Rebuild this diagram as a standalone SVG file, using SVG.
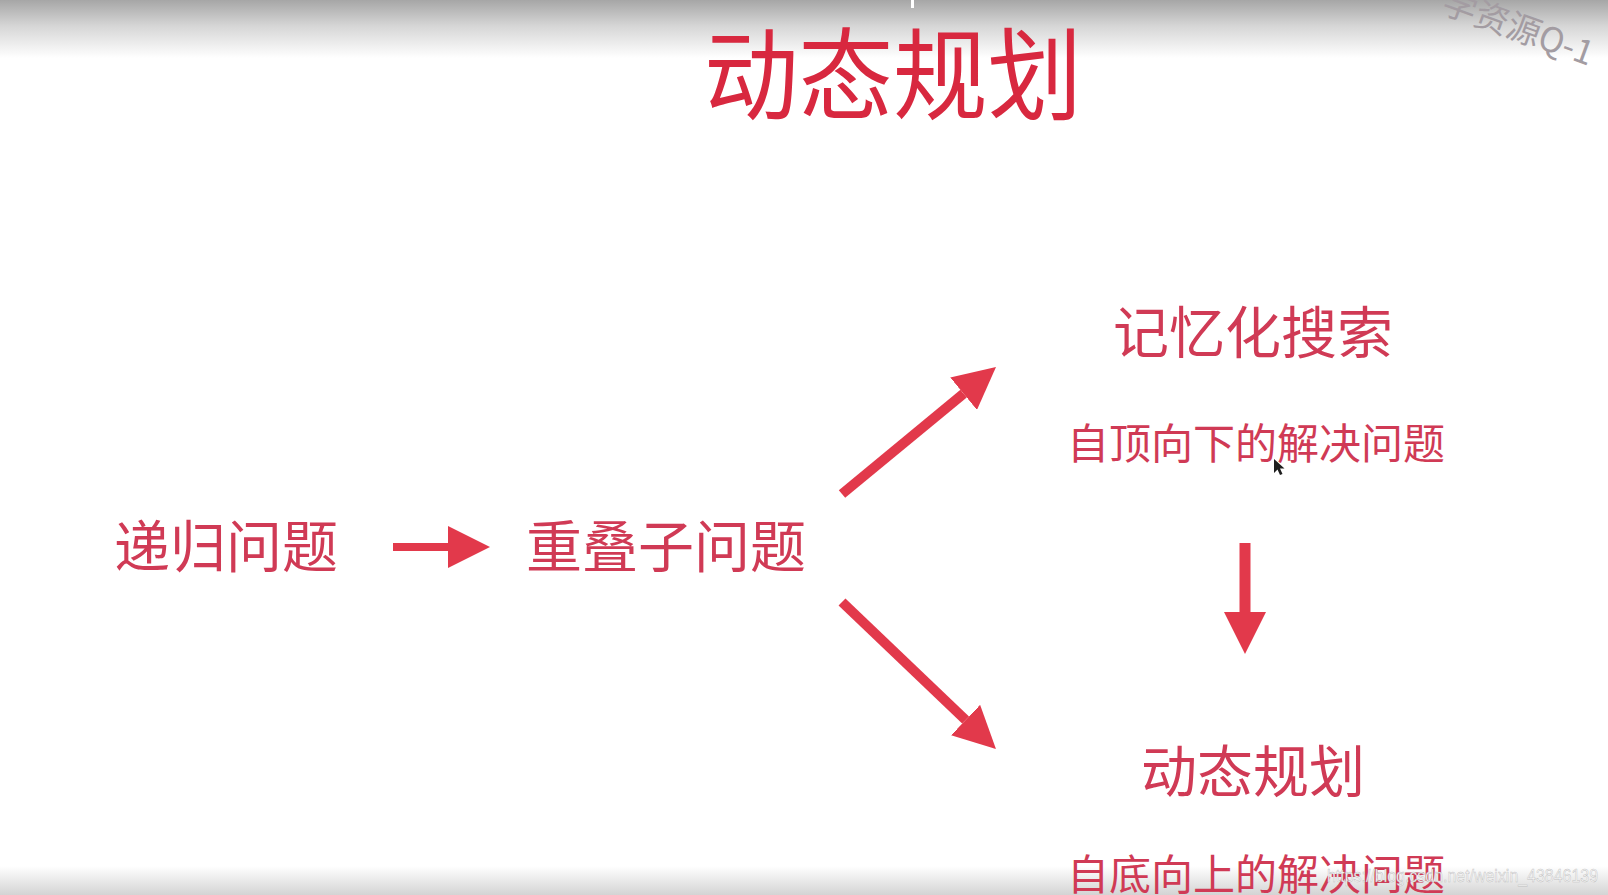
<svg xmlns="http://www.w3.org/2000/svg" width="1608" height="895" viewBox="0 0 1608 895">
  <style>
    .t { font-family: "Noto Sans CJK SC", "Noto Sans", sans-serif; text-anchor: middle; }
    .lbl { fill: #d03a55; font-size: 56px; }
    .sub { fill: #d03a55; font-size: 42px; }
    .title { fill: #d8283f; font-size: 100px; }
    .arrow { stroke: #e2394b; fill: none; stroke-linecap: butt; }
  </style>
  <defs>
    <linearGradient id="topg" x1="0" y1="0" x2="0" y2="1">
      <stop offset="0" stop-color="#a6a6a6"/>
      <stop offset="0.45" stop-color="#d6d6d6"/>
      <stop offset="1" stop-color="#ffffff"/>
    </linearGradient>
    <linearGradient id="botg" x1="0" y1="0" x2="0" y2="1">
      <stop offset="0" stop-color="#ffffff"/>
      <stop offset="1" stop-color="#d4d4d4"/>
    </linearGradient>
    <marker id="head" markerUnits="userSpaceOnUse" markerWidth="42" markerHeight="42" refX="0" refY="21" orient="auto" viewBox="0 0 42 42">
      <path d="M0,0 L42,21 L0,42 z" fill="#e2394b"/>
    </marker>
  </defs>

  <rect x="0" y="0" width="1608" height="895" fill="#ffffff"/>
  <rect x="0" y="0" width="1608" height="58" fill="url(#topg)"/>
  <rect x="911" y="0" width="3" height="8" fill="#ffffff"/>
  <rect x="0" y="866" width="1608" height="29" fill="url(#botg)"/>

  <text class="t" x="1440" y="12" transform="rotate(20 1440 12)" style="text-anchor:start;font-size:34px;fill:#a39ca2">学资源Q-1</text>

  <g id="title">
    <text class="t title" x="893" y="112" textLength="378" lengthAdjust="spacingAndGlyphs">动态规划</text>
  </g>

  <g id="node-recursion">
    <text class="t lbl" x="226" y="567">递归问题</text>
  </g>
  <g id="node-overlap">
    <text class="t lbl" x="666" y="567">重叠子问题</text>
  </g>
  <g id="node-memo">
    <text class="t lbl" x="1253" y="353">记忆化搜索</text>
    <text class="t sub" x="1256" y="459">自顶向下的解决问题</text>
  </g>
  <g id="node-dp">
    <text class="t lbl" x="1253" y="792">动态规划</text>
    <text class="t sub" x="1256" y="890">自底向上的解决问题</text>
  </g>

  <g id="connectors">
    <line class="arrow" x1="393" y1="547" x2="448" y2="547" stroke-width="8" marker-end="url(#head)"/>
    <line class="arrow" x1="842" y1="494" x2="963.6" y2="393.7" stroke-width="10" marker-end="url(#head)"/>
    <line class="arrow" x1="842" y1="602" x2="965.6" y2="720" stroke-width="10" marker-end="url(#head)"/>
    <line class="arrow" x1="1245" y1="543" x2="1245" y2="612" stroke-width="11" marker-end="url(#head)"/>
  </g>

  <path d="M1274,459 L1274,473 L1277.5,469.5 L1280,475 L1282.5,474 L1280,468.5 L1284.5,468.5 Z" fill="#1e1e1e"/>

  <text x="1327" y="882" textLength="271" lengthAdjust="spacingAndGlyphs" style="font-family:'Liberation Sans', sans-serif;font-size:19px;fill:#f6f6f6;stroke:#9a9a9a;stroke-width:0.5;stroke-opacity:0.6">https://blog.csdn.net/weixin_43846139</text>
</svg>
